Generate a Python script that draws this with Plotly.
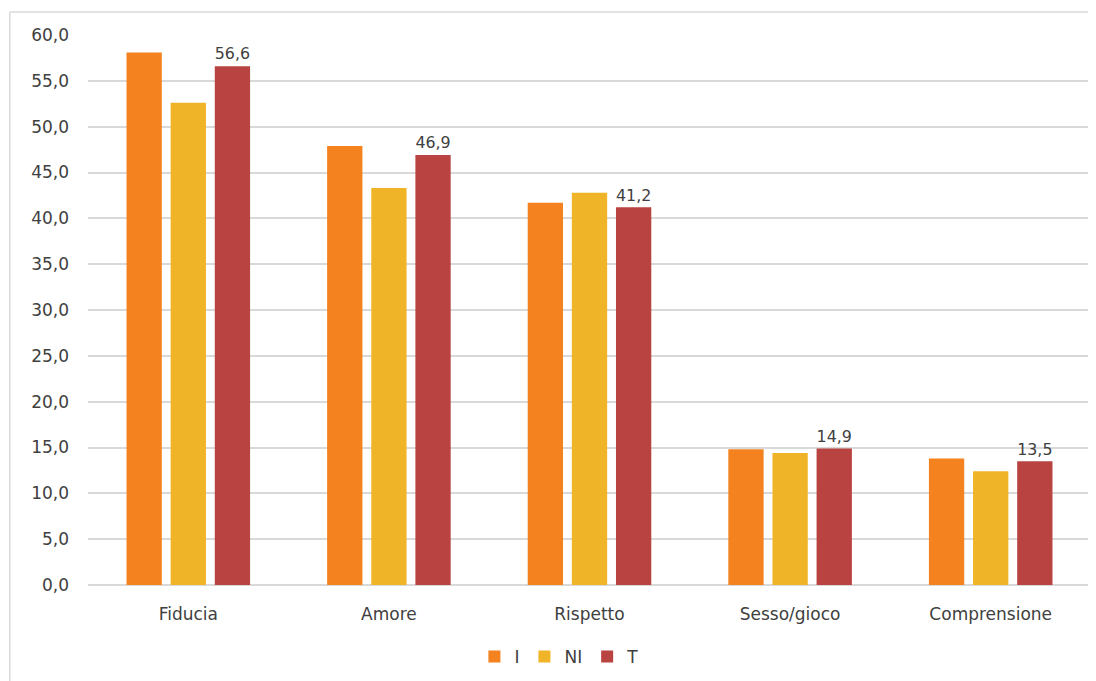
import plotly.graph_objects as go

categories = ["Fiducia", "Amore", "Rispetto", "Sesso/gioco", "Comprensione"]
vals_I = [58.1, 47.9, 41.7, 14.8, 13.8]
vals_NI = [52.6, 43.3, 42.8, 14.4, 12.4]
vals_T = [56.6, 46.9, 41.2, 14.9, 13.5]
series_names = ["I", "NI", "T"]
colors = ["#F4821F", "#F0B429", "#B94340"]
ytick_vals = [0, 5, 10, 15, 20, 25, 30, 35, 40, 45, 50, 55, 60]

font_family = "DejaVu Sans, sans-serif"
text_color = "#404040"

fig = go.Figure()
for name, vals, col in zip(series_names, [vals_I, vals_NI, vals_T], colors):
    fig.add_trace(go.Bar(
        x=categories, y=vals, name=name,
        marker=dict(color=col, line=dict(width=0)),
        texttemplate="%{y:.1f}" if name == "T" else None,
        textposition="outside" if name == "T" else "none",
        textfont=dict(size=17, color=text_color, family=font_family),
        cliponaxis=False,
    ))

fig.update_layout(
    width=1096, height=681,
    margin=dict(l=80, r=13, t=27, b=104),
    paper_bgcolor="white", plot_bgcolor="white",
    separators=",.",
    barmode="group", bargap=0.34, bargroupgap=0.2,
    font=dict(family=font_family, size=17, color=text_color),
    showlegend=True,
    legend=dict(orientation="h", x=0.47, xanchor="center", y=-0.098, yanchor="top",
                font=dict(size=17, color=text_color), itemwidth=30, traceorder="normal"),
    shapes=[
        dict(type="line", xref="paper", yref="paper", x0=-0.078, x1=1.02, y0=1.042, y1=1.042,
             line=dict(color="#d9d9d9", width=1.5)),
        dict(type="line", xref="paper", yref="paper", x0=-0.078, x1=-0.078, y0=1.042, y1=-0.25,
             line=dict(color="#d9d9d9", width=1.5)),
    ],
)
fig.update_yaxes(range=[0, 60], tickvals=ytick_vals, tickformat=".1f",
                 showgrid=True, gridcolor="#d9d9d9", gridwidth=1.5,
                 zeroline=True, zerolinecolor="#d9d9d9", zerolinewidth=1.5,
                 showline=False, ticks="", ticklabelstandoff=18,
                 tickfont=dict(size=17, color=text_color))
fig.update_xaxes(showline=False, ticks="", ticklabelstandoff=17,
                 tickfont=dict(size=17, color=text_color))

fig.write_html("out.html")
